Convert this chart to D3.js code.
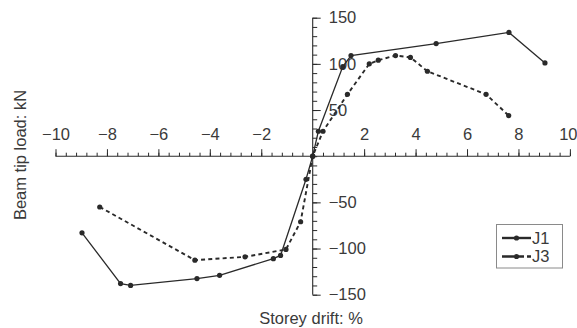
<!DOCTYPE html>
<html><head><meta charset="utf-8">
<script src="https://cdn.jsdelivr.net/npm/d3@7"></script>
<style>
body{margin:0;background:#fff;}
text{font-family:"Liberation Sans",Arial,sans-serif;fill:#3a3a3a;}
</style></head>
<body><svg id="c" width="577" height="328"></svg>
<script>
const seriesNames = ["J1","J3"];
const j1Drift = [-8.97,-7.47,-7.08,-4.5,-3.62,-1.53,-1.25,-0.26,0,0.22,1.17,1.49,4.8,7.63,9.03];
const j1Load  = [-83,-138,-140,-132.5,-129,-111,-107.5,-25,0,27,97,109,122,134,101];
const j3Drift = [-8.28,-4.58,-2.63,-1.04,-0.47,0,0.4,1.35,2.2,2.55,3.22,3.8,4.46,6.74,7.62];
const j3Load  = [-55,-112.6,-109,-101,-71,0,27,67,100,104,109,107,92,67,44];
const xTicks = [-10,-8,-6,-4,-2,2,4,6,8,10];
const yTicks = [-150,-100,-50,50,100,150];
const xTitle = "Storey drift: %";
const yTitle = "Beam tip load: kN";

const svg = d3.select("#c");
const x = d3.scaleLinear().domain([-10,10]).range([55.5,569.9]);
const y = d3.scaleLinear().domain([-150,150]).range([294.7,17.7]);
const fmt = v => (v<0 ? "\u2212" : "") + Math.abs(v);
const ink = "#2a2a2a";

// x axis (ticks above)
const xMinor = d3.range(-10,10.001,0.4).map(v=>+v.toFixed(2));
const gxm = svg.append("g").attr("transform",`translate(0,${y(0)})`)
  .call(d3.axisTop(x).tickValues(xMinor).tickSize(3.5).tickFormat(""));
const gx = svg.append("g").attr("transform",`translate(0,${y(0)})`)
  .call(d3.axisTop(x).tickValues(xTicks).tickSize(7).tickPadding(9).tickFormat(fmt).tickSizeOuter(0));
gx.select(".domain").attr("d",`M${x(-10)},0H${x(10)}`);
// keep the last label inside the page edge
gx.selectAll(".tick").filter(d=>d===10).select("text")
  .attr("text-anchor","end").attr("x",577-x(10));
// y axis (ticks right)
const yMinor = d3.range(-150,150.001,10);
const gym = svg.append("g").attr("transform",`translate(${x(0)},0)`)
  .call(d3.axisRight(y).tickValues(yMinor).tickSize(4.5).tickFormat(""));
const gy = svg.append("g").attr("transform",`translate(${x(0)},0)`)
  .call(d3.axisRight(y).tickValues(yTicks).tickSize(8).tickPadding(8).tickFormat(fmt));
gy.select(".domain").attr("d",`M0,${y(150)}V${y(-150)}`);
[gxm,gx,gym,gy].forEach(g=>{
  g.selectAll(".domain").attr("stroke",ink).attr("stroke-width",1.1);
  g.selectAll(".tick line").attr("stroke",ink).attr("stroke-width",1);
  g.selectAll("text").attr("font-size",16.5).attr("fill","#3a3a3a")
   .attr("font-family","Liberation Sans, Arial, sans-serif");
});
gym.select(".domain").remove(); gxm.select(".domain").remove();

// series
const line = d3.line().x(d=>x(d[0])).y(d=>y(d[1]));
const series = [
  {name:seriesNames[0], pts:j1Drift.map((v,i)=>[v,j1Load[i]]), dash:null, w:1.3},
  {name:seriesNames[1], pts:j3Drift.map((v,i)=>[v,j3Load[i]]), dash:"4,3.2", w:1.9}
];
series.forEach(s=>{
  svg.append("path").attr("d",line(s.pts)).attr("fill","none")
    .attr("stroke",ink).attr("stroke-width",s.w).attr("stroke-dasharray",s.dash);
  svg.append("g").selectAll("circle").data(s.pts).join("circle")
    .attr("cx",d=>x(d[0])).attr("cy",d=>y(d[1])).attr("r",2.6).attr("fill",ink);
});

// titles
svg.append("text").attr("x",311).attr("y",324).attr("text-anchor","middle")
  .attr("font-size",16.5).text(xTitle);
svg.append("text").attr("transform","translate(25.5,155) rotate(-90)")
  .attr("text-anchor","middle").attr("font-size",16.5).text(yTitle);

// legend
const lg = svg.append("g");
lg.append("rect").attr("x",496.5).attr("y",224.5).attr("width",66).attr("height",43.5)
  .attr("fill","#fff").attr("stroke","#8a8a8a").attr("stroke-width",1);
series.forEach((s,i)=>{
  const ly = 238 + i*18.5;
  lg.append("line").attr("x1",502).attr("x2",531).attr("y1",ly).attr("y2",ly)
    .attr("stroke",ink).attr("stroke-width",2.4).attr("stroke-dasharray",s.dash?"12,2,8,3,4":null);
  lg.append("circle").attr("cx",516.5).attr("cy",ly).attr("r",2.6).attr("fill",ink);
  lg.append("text").attr("x",532).attr("y",ly).attr("dy","0.36em").attr("font-size",16.5).text(s.name);
});
</script></body></html>
